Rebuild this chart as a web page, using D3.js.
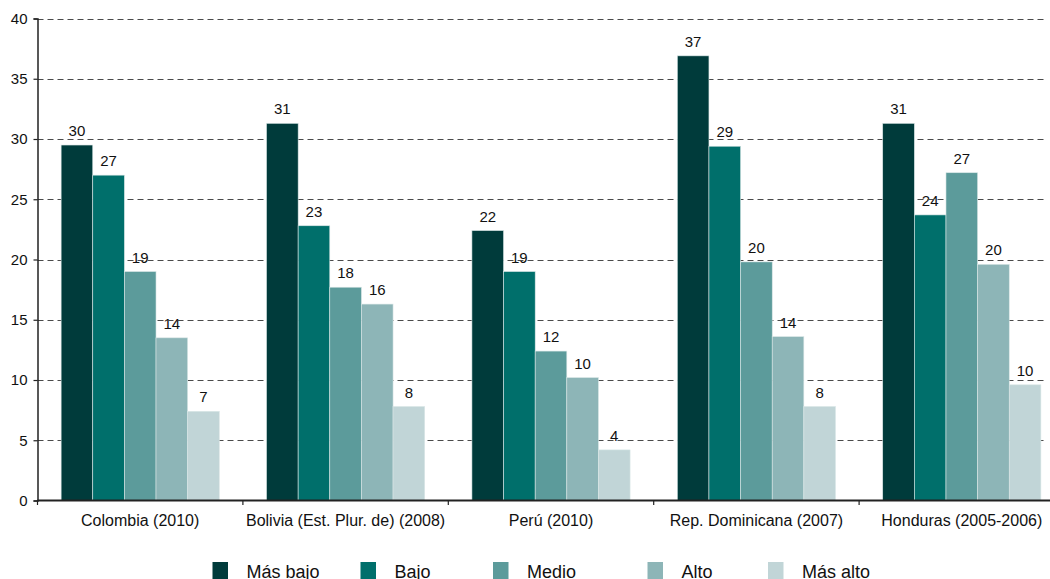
<!DOCTYPE html>
<html><head><meta charset="utf-8">
<script src="https://cdn.jsdelivr.net/npm/d3@7/dist/d3.min.js"></script>
<style>body{margin:0;background:#fff}svg{display:block;font-family:"Liberation Sans",Arial,sans-serif}</style>
</head><body>
<svg id="c" width="1050" height="579"></svg>
<script>
const categories = ["Colombia (2010)", "Bolivia (Est. Plur. de) (2008)", "Perú (2010)", "Rep. Dominicana (2007)", "Honduras (2005-2006)"];
const seriesNames = ["Más bajo", "Bajo", "Medio", "Alto", "Más alto"];
const masBajo = [29.5, 31.3, 22.4, 36.9, 31.3];
const bajo    = [27.0, 22.8, 19.0, 29.4, 23.7];
const medio   = [19.0, 17.7, 12.4, 19.8, 27.2];
const alto    = [13.5, 16.3, 10.2, 13.6, 19.6];
const masAlto = [7.4, 7.8, 4.2, 7.8, 9.6];
const labelsMasBajo = ["30", "31", "22", "37", "31"];
const labelsBajo    = ["27", "23", "19", "29", "24"];
const labelsMedio   = ["19", "18", "12", "20", "27"];
const labelsAlto    = ["14", "16", "10", "14", "20"];
const labelsMasAlto = ["7", "8", "4", "8", "10"];
const yTicks = [0, 5, 10, 15, 20, 25, 30, 35, 40];
const colors = ["#003b3b", "#006f6b", "#5c9b9b", "#8db5b7", "#c1d5d7"];

const seriesValues = [masBajo, bajo, medio, alto, masAlto];
const seriesLabels = [labelsMasBajo, labelsBajo, labelsMedio, labelsAlto, labelsMasAlto];

const svg = d3.select("#c");
const x0 = d3.scaleBand().domain(categories).range([37.5, 1064.5]).paddingInner(0.23).paddingOuter(0.115);
const x1 = d3.scaleBand().domain(seriesNames).range([0, x0.bandwidth()]);
const y = d3.scaleLinear().domain([0, 40]).range([500.5, 18.5]);

const data = [];
categories.forEach((c, i) => seriesNames.forEach((s, j) => data.push({c, s, j, v: seriesValues[j][i], l: seriesLabels[j][i]})));

// value labels (under gridlines)
svg.append("g").selectAll("text").data(data).join("text")
  .attr("x", d => x0(d.c) + x1(d.s) + x1.bandwidth() / 2)
  .attr("y", d => y(d.v) - 9)
  .attr("text-anchor", "middle")
  .attr("font-size", 15).attr("fill", "#111")
  .text(d => d.l);

// gridlines
svg.append("g").selectAll("line").data(yTicks.filter(t => t > 0)).join("line")
  .attr("x1", 37.5).attr("x2", 1044)
  .attr("y1", d => Math.round(y(d)) + 0.5).attr("y2", d => Math.round(y(d)) + 0.5)
  .attr("stroke", "#4a4a4a").attr("stroke-width", 1).attr("stroke-dasharray", "6,4");

// bars
svg.append("g").selectAll("rect").data(data).join("rect")
  .attr("x", d => x0(d.c) + x1(d.s))
  .attr("y", d => y(d.v))
  .attr("width", x1.bandwidth())
  .attr("height", d => y(0) - y(d.v))
  .attr("fill", d => colors[d.j])
  .attr("stroke", "#d9e6e6").attr("stroke-width", 0.6);

// y axis
const yAxis = svg.append("g").attr("transform", "translate(37.5,0)")
  .call(d3.axisLeft(y).tickValues(yTicks).tickSize(4).tickPadding(6));
yAxis.select(".domain").attr("stroke", "#222").attr("stroke-width", 1.5);
yAxis.selectAll(".tick line").attr("stroke", "#222").attr("stroke-width", 1.2);
yAxis.selectAll("text").attr("font-size", 15).attr("fill", "#111").attr("font-family", "Liberation Sans, Arial, sans-serif");

// x axis line + boundary ticks
svg.append("line").attr("x1", 37.5).attr("x2", 1050).attr("y1", 500.5).attr("y2", 500.5)
  .attr("stroke", "#222").attr("stroke-width", 1.8);
const bounds = categories.map(c => x0(c) - x0.step() * x0.paddingInner() / 2);
svg.append("g").selectAll("line").data(bounds).join("line")
  .attr("x1", d => d).attr("x2", d => d).attr("y1", 500).attr("y2", 505)
  .attr("stroke", "#222").attr("stroke-width", 1.2);
svg.append("g").selectAll("text").data(categories).join("text")
  .attr("x", d => x0(d) + x0.bandwidth() / 2)
  .attr("y", 526)
  .attr("text-anchor", "middle").attr("font-size", 16).attr("fill", "#111")
  .text(d => d);

// legend
const legX = [212.5, 360.5, 493, 647.5, 768];
const lg = svg.append("g").selectAll("g").data(seriesNames).join("g")
  .attr("transform", (d, i) => `translate(${legX[i]},562)`);
lg.append("rect").attr("width", 15.5).attr("height", 17).attr("fill", (d, i) => colors[i]);
lg.append("text").attr("x", 34).attr("y", 15.5).attr("font-size", 18).attr("fill", "#111").text(d => d);
</script>
</body></html>
